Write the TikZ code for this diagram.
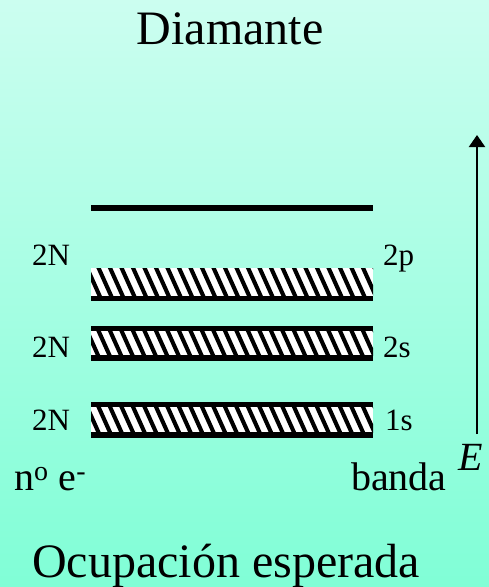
\documentclass[tikz,border=0pt]{standalone}
\usepackage{fontspec}
\setmainfont{Liberation Serif}
\usetikzlibrary{arrows.meta}
\definecolor{bgtop}{RGB}{204,254,240}
\definecolor{bgbot}{RGB}{128,254,214}
\tikzset{
  lbl/.style={inner sep=0pt, anchor=base west, font=\fontsize{31}{31}\selectfont},
  big/.style={inner sep=0pt, anchor=base, font=\fontsize{48}{48}\selectfont},
  mid/.style={inner sep=0pt, anchor=base west, font=\fontsize{40}{40}\selectfont},
  hatchline/.style={line width=4.1pt, black},
  bandedge/.style={fill=black},
}
\begin{document}
\begin{tikzpicture}[x=1pt,y=-1pt]
\fill[top color=bgtop, bottom color=bgbot] (0,0) rectangle (489,587);
\useasboundingbox (0,0) rectangle (489,587);
% top level line
\fill[bandedge] (91,205) rectangle (373,211);
% 2p band
\begin{scope}
  \clip (91,268) rectangle (373,296);
  \fill[white] (91,268) rectangle (373,296);
  \foreach \x in {-20,-8.5,...,400}
    \draw[hatchline] (\x,260) -- ++(18,40);
\end{scope}
\fill[bandedge] (91,296) rectangle (373,301);
% 2s band
\begin{scope}
  \clip (91,331) rectangle (373,355);
  \fill[white] (91,331) rectangle (373,355);
  \foreach \x in {-20,-8.5,...,400}
    \draw[hatchline] (\x,323) -- ++(18,40);
\end{scope}
\fill[bandedge] (91,326) rectangle (373,331);
\fill[bandedge] (91,355) rectangle (373,361);
% 1s band
\begin{scope}
  \clip (91,407) rectangle (373,432);
  \fill[white] (91,407) rectangle (373,432);
  \foreach \x in {-20,-8.5,...,400}
    \draw[hatchline] (\x,399) -- ++(18,40);
\end{scope}
\fill[bandedge] (91,402) rectangle (373,407);
\fill[bandedge] (91,432) rectangle (373,438);
% texts
\node[big] (title) at (230,44) {Diamante};
\node[big] (occ) at (226,577) {Ocupación esperada};
\node[lbl] (n2p) at (32,265) {2N};
\node[lbl] (n2s) at (32,357) {2N};
\node[lbl] (n1s) at (32,430) {2N};
\node[lbl] (b2p) at (383,265) {2p};
\node[lbl] (b2s) at (383,357) {2s};
\node[lbl] (b1s) at (385,430) {1s};
\node[mid] (ne) at (14,490) {n\textsuperscript{o} e\textsuperscript{-}};
\node[mid] (banda) at (351,490) {banda};
\node[mid] (E) at (458,470) {\itshape E};
% energy axis
\coordinate (Ebot) at (477,434);
\coordinate (Etop) at (477,135);
\draw[line width=2pt, -{Triangle[length=12pt,width=16pt]}] (Ebot) -- (Etop);
\end{tikzpicture}
\end{document}
